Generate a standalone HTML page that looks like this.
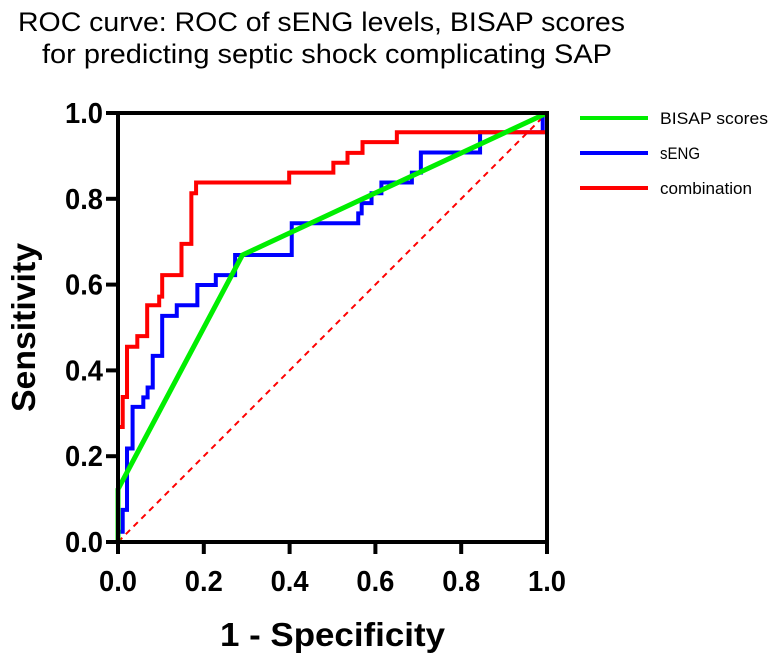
<!DOCTYPE html>
<html><head><meta charset="utf-8"><style>
body{margin:0;background:#fff}
svg{display:block;font-family:"Liberation Sans",Arial,sans-serif}
</style></head><body>
<svg id="chart" width="773" height="660">
<text x="18" y="31" font-size="27" textLength="607" lengthAdjust="spacingAndGlyphs">ROC curve: ROC of sENG levels, BISAP scores</text>
<text x="42" y="63" font-size="27" textLength="570" lengthAdjust="spacingAndGlyphs">for predicting septic shock complicating SAP</text>
<g id="plot"></g>
<text x="220" y="646" font-size="33" font-weight="bold" textLength="225" lengthAdjust="spacingAndGlyphs">1 - Specificity</text>
<text transform="translate(35,412) rotate(-90)" font-size="33" font-weight="bold" textLength="169" lengthAdjust="spacingAndGlyphs">Sensitivity</text>
</svg>
<script>
const ticks=[0,0.2,0.4,0.6,0.8,1.0];
const tickLabels=["0.0","0.2","0.4","0.6","0.8","1.0"];
const seriesNames=["BISAP scores","sENG","combination"];
const bisapFpr=[0,0,0.29,1];
const bisapTpr=[0,0.123,0.669,1];
const sengFpr=[0,0.011,0.021,0.034,0.059,0.069,0.081,0.103,0.137,0.185,0.228,0.273,0.405,0.56,0.568,0.591,0.614,0.685,0.706,0.844,0.99];
const sengTpr=[0.024,0.075,0.218,0.315,0.337,0.36,0.434,0.527,0.552,0.599,0.622,0.669,0.743,0.766,0.79,0.813,0.838,0.861,0.908,0.955,1.0];
const combFpr=[0,0.011,0.021,0.045,0.068,0.096,0.103,0.148,0.171,0.182,0.399,0.502,0.535,0.57,0.65,1.0];
const combTpr=[0.268,0.338,0.455,0.48,0.552,0.572,0.622,0.695,0.813,0.838,0.861,0.884,0.907,0.932,0.955,1.0];
const NS="http://www.w3.org/2000/svg";
const X=v=>118+429*v, Y=v=>542-429*v;
const g=document.getElementById('plot');
function mk(t,a){const e=document.createElementNS(NS,t);for(const k in a)e.setAttribute(k,a[k]);g.appendChild(e);return e;}
let d=mk('line',{x1:X(0),y1:Y(0),x2:X(1),y2:Y(1),stroke:'#ff0000','stroke-width':2,'stroke-dasharray':'6,5'});


function stepPath(fx,ty){let p='M'+X(fx[0])+','+Y(0);for(let i=0;i<fx.length;i++){p+=' L'+X(fx[i])+','+Y(i?ty[i-1]:0)+' L'+X(fx[i])+','+Y(ty[i]);}return p;}
let s=mk('path',{d:stepPath(sengFpr,sengTpr),fill:'none',stroke:'#0000ff','stroke-width':4});


let c=mk('path',{d:stepPath(combFpr,combTpr),fill:'none',stroke:'#ff0000','stroke-width':4});


let b=mk('polyline',{points:bisapFpr.map((f,i)=>X(f)+','+Y(bisapTpr[i])).join(' '),fill:'none',stroke:'#00ee00','stroke-width':5});


let fr=mk('rect',{x:X(0),y:Y(1),width:429,height:429,fill:'none',stroke:'#000','stroke-width':4});


ticks.forEach((t,i)=>{
 let a=mk('line',{x1:X(t),y1:Y(0),x2:X(t),y2:Y(0)+12,stroke:'#000','stroke-width':4});
 
 
 let tx=mk('text',{x:X(t)-19,y:591,'font-size':29,'font-weight':'bold',textLength:38,lengthAdjust:'spacingAndGlyphs'});tx.textContent=tickLabels[i];
 
 
 let b2=mk('line',{x1:X(0)-12,y1:Y(t),x2:X(0),y2:Y(t),stroke:'#000','stroke-width':4});
 
 
 let ty=mk('text',{x:65,y:Y(t)+10,'font-size':29,'font-weight':'bold',textLength:38,lengthAdjust:'spacingAndGlyphs'});ty.textContent=tickLabels[i];
 
 
});
const cols=['#00ee00','#0000ff','#ff0000'];
const legW=[108,40,92];
seriesNames.forEach((n,i)=>{
 const y=118+35*i;
 let l=mk('line',{x1:580,y1:y,x2:648,y2:y,stroke:cols[i],'stroke-width':4});
 
 
 let t=mk('text',{x:660,y:y+6,'font-size':17,textLength:legW[i],lengthAdjust:'spacingAndGlyphs'});t.textContent=n;
 
 
});
</script>
</body></html>
